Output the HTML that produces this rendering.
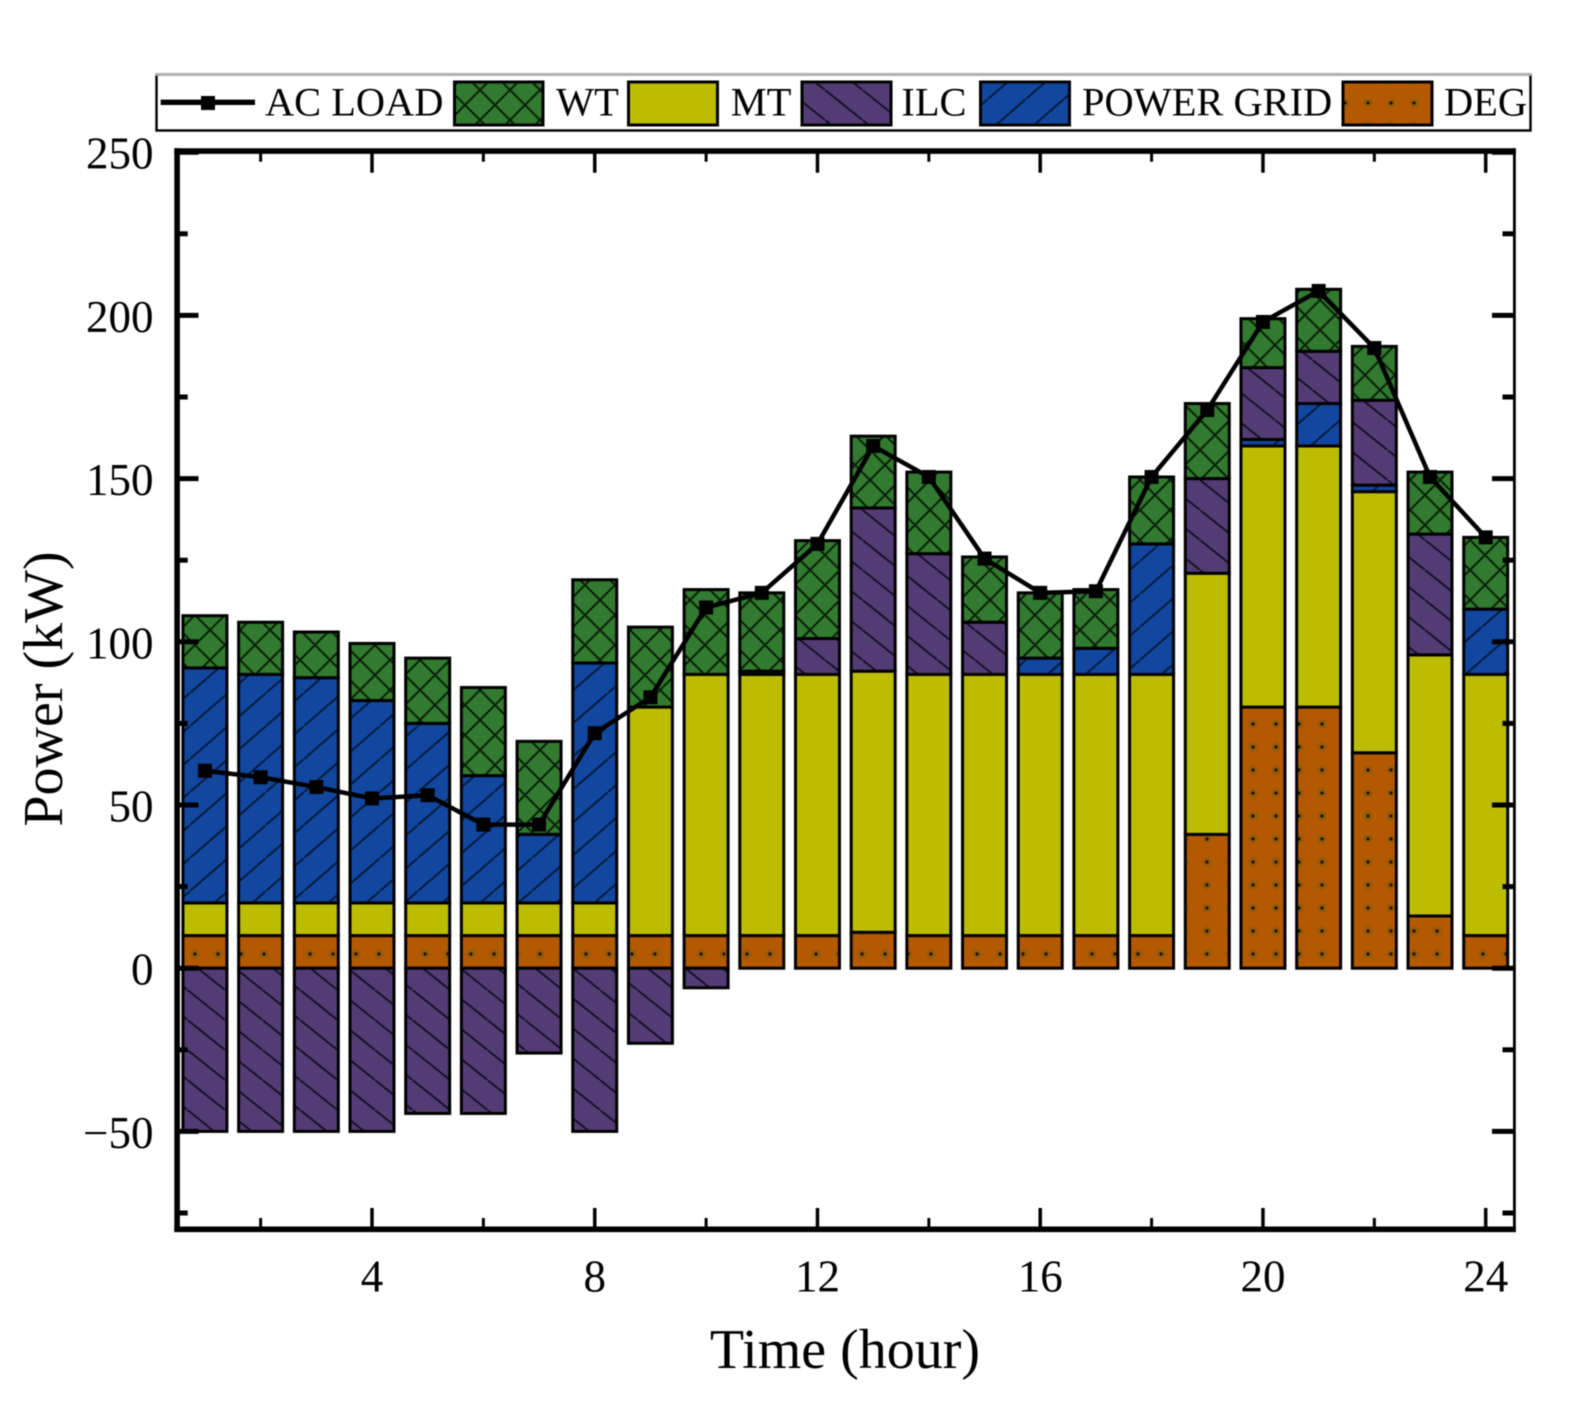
<!DOCTYPE html>
<html>
<head>
<meta charset="utf-8">
<title>Power balance chart</title>
<style>
html,body{margin:0;padding:0;background:#fff;}
#chart{display:block;width:1582px;height:1426px;filter:blur(0.5px);}
text{font-family:"Liberation Serif",serif;fill:#000;}
.tick{font-size:45px;}
.leg{font-size:40.4px;}
.title{font-size:56px;}
</style>
</head>
<body>
<svg id="chart" xmlns="http://www.w3.org/2000/svg" width="1582" height="1426" viewBox="0 0 1582 1426">
  <defs>
    <pattern id="p-wt" patternUnits="userSpaceOnUse" width="30" height="30">
      <rect width="30" height="30" fill="#317a2f"/>
      <path d="M0 0L30 30M30 0L0 30" stroke="#0a1f0a" stroke-width="2" fill="none"/>
    </pattern>
    <pattern id="p-ilc" patternUnits="userSpaceOnUse" width="37.5" height="30">
      <rect width="37.5" height="30" fill="#533c74"/>
      <path d="M-3.75 -3L41.25 33" stroke="#17102a" stroke-width="2" fill="none"/>
    </pattern>
    <pattern id="p-grid" patternUnits="userSpaceOnUse" width="38" height="33">
      <rect width="38" height="33" fill="#12479f"/>
      <path d="M-3.8 36.3L41.8 -3.3" stroke="#071c40" stroke-width="2" fill="none"/>
    </pattern>
    <pattern id="p-deg" patternUnits="userSpaceOnUse" width="23" height="23">
      <rect width="23" height="23" fill="#b35900"/>
      <circle cx="11" cy="11" r="4.5" fill="#94590a"/>
      <circle cx="11" cy="11" r="1.6" fill="#201000"/>
    </pattern>
    <clipPath id="plot-clip"><rect x="177" y="151" width="1337" height="1078"/></clipPath>
  </defs>

  <g id="bars" clip-path="url(#plot-clip)"></g>
  <g id="load-line"></g>
  <g id="axes"></g>

  <g stroke="#000" fill="none">
    <line x1="177.1" y1="148.3" x2="177.1" y2="1232" stroke-width="5.6"/>
    <line x1="1514.4" y1="148.3" x2="1514.4" y2="1232" stroke-width="2.8"/>
    <line x1="174.3" y1="151.1" x2="1515.8" y2="151.1" stroke-width="5.6"/>
    <line x1="174.3" y1="1229.3" x2="1515.8" y2="1229.3" stroke-width="5.6"/>
  </g>

  <text class="title" x="845" y="1368" text-anchor="middle">Time (hour)</text>
  <text class="title" transform="translate(62,689) rotate(-90)" text-anchor="middle">Power (kW)</text>

  <g>
    <rect x="156.5" y="74.5" width="1374" height="56" fill="#fff" stroke="#000" stroke-width="2.4"/>
    <line x1="155.5" y1="74.5" x2="1531.5" y2="74.5" stroke="#b4b4b4" stroke-width="2.6"/>
    <g>
      <line x1="160.7" y1="102.3" x2="255" y2="102.3" stroke="#000" stroke-width="5.4"/>
      <rect x="201" y="96" width="14" height="14" fill="#000"/>
      <text class="leg" x="265" y="115.5">AC LOAD</text>
    </g>
    <g>
      <rect x="454.5" y="82" width="88.5" height="43" fill="url(#p-wt)" stroke="#000" stroke-width="3"/>
      <text class="leg" x="556" y="115.5">WT</text>
    </g>
    <g>
      <rect x="628.5" y="82" width="89" height="43" fill="#bcbc00" stroke="#000" stroke-width="3"/>
      <text class="leg" x="730.8" y="115.5">MT</text>
    </g>
    <g>
      <rect x="802" y="82" width="89" height="43" fill="url(#p-ilc)" stroke="#000" stroke-width="3"/>
      <text class="leg" x="901.4" y="115.5">ILC</text>
    </g>
    <g>
      <rect x="980.5" y="82" width="89" height="43" fill="url(#p-grid)" stroke="#000" stroke-width="3"/>
      <text class="leg" x="1082" y="115.5">POWER GRID</text>
    </g>
    <g>
      <rect x="1343" y="82" width="89" height="43" fill="url(#p-deg)" stroke="#000" stroke-width="3"/>
      <text class="leg" x="1444" y="115.5">DEG</text>
    </g>
  </g>
</svg>

<script>
const hours = [1,2,3,4,5,6,7,8,9,10,11,12,13,14,15,16,17,18,19,20,21,22,23,24];
const degValues  = [10,10,10,10,10,10,10,10,10,10,10,10,11,10,10,10,10,10,41,80,80,66,16,10];
const mtValues   = [10,10,10,10,10,10,10,10,70,80,80,80,80,80,80,80,80,80,80,80,80,80,80,80];
const gridValues = [72,70,69,62,55,39,21,73.5,0,0,0,0,0,0,0,5,8,40,0,2,13,2,0,20];
const ilcValues  = [-50,-50,-50,-50,-44.5,-44.5,-26,-50,-23,-6,1,11,50,37,16,0,0,0,29,22,16,26,37,0];
const wtValues   = [16,16,14,17.5,20,27,28.5,25.5,24.5,26,24,30,22,25,20,20,18,20.5,23,15,19,16.5,19,22];
const loadValues = [60.5,58.5,55.5,52,53,44,44,72,83,110.5,115,130,160,150.5,125.5,115,115.5,150.5,171,198,207.5,190,150.5,132];
const yMajorTicks = [-50,0,50,100,150,200,250];
const yMinorTicks = [-75,-25,25,75,125,175,225];
const xMajorTicks = [4,8,12,16,20,24];
const xMinorTicks = [2,6,10,14,18,22];
const barWidthHours = 0.79;

const NS = 'http://www.w3.org/2000/svg';
function xScale(h){ return 372 + (h - 4) * 55.685; }
function yScale(v){ return 968.2 - v * 3.264; }
function make(tag, attrs, parent){
  const el = document.createElementNS(NS, tag);
  for (const k in attrs) el.setAttribute(k, attrs[k]);
  parent.appendChild(el);
  return el;
}

const barsGroup = document.getElementById('bars');
function drawSegment(hour, v0, v1, fill, name){
  if (v0 === v1) return;
  const x0 = xScale(hour - barWidthHours / 2);
  const x1 = xScale(hour + barWidthHours / 2);
  const yA = yScale(Math.max(v0, v1));
  const yB = yScale(Math.min(v0, v1));
  const r = make('rect', {x:x0, y:yA, width:x1-x0, height:yB-yA, fill:fill, stroke:'#000', 'stroke-width':3}, barsGroup);
  
  
}
hours.forEach(function(h, i){
  let top = 0;
  drawSegment(h, top, top + degValues[i], 'url(#p-deg)', 'deg'); top += degValues[i];
  drawSegment(h, top, top + mtValues[i], '#bcbc00', 'mt'); top += mtValues[i];
  drawSegment(h, top, top + gridValues[i], 'url(#p-grid)', 'power-grid'); top += gridValues[i];
  if (ilcValues[i] < 0) {
    drawSegment(h, 0, ilcValues[i], 'url(#p-ilc)', 'ilc');
  } else {
    drawSegment(h, top, top + ilcValues[i], 'url(#p-ilc)', 'ilc'); top += ilcValues[i];
  }
  drawSegment(h, top, top + wtValues[i], 'url(#p-wt)', 'wt');
});

const lineGroup = document.getElementById('load-line');
const pts = hours.map(function(h, i){ return xScale(h) + ',' + yScale(loadValues[i]); }).join(' ');
const loadLine = make('polyline', {points:pts, fill:'none', stroke:'#000', 'stroke-width':4.5, 'stroke-linejoin':'round'}, lineGroup);


hours.forEach(function(h, i){
  const m = make('rect', {x:xScale(h)-7, y:yScale(loadValues[i])-7, width:14, height:14, fill:'#000'}, lineGroup);
  
  
});

const axesGroup = document.getElementById('axes');
function tick(x1, y1, x2, y2, w, name){
  const t = make('line', {x1:x1, y1:y1, x2:x2, y2:y2, stroke:'#000', 'stroke-width':w}, axesGroup);
  
  
}
yMajorTicks.forEach(function(v){
  const y = yScale(v);
  tick(177, y, 198.5, y, 5, 'y-major-tick-left');
  tick(1514, y, 1492, y, 5, 'y-major-tick-right');
  const label = make('text', {x:153.5, y:y + 16.5, 'text-anchor':'end', 'class':'tick'}, axesGroup);
  label.textContent = v < 0 ? '\u2212' + Math.abs(v) : String(v);
  
  
});
yMinorTicks.forEach(function(v){
  const y = yScale(v);
  tick(177, y, 187.7, y, 5, 'y-minor-tick-left');
  tick(1514, y, 1502.5, y, 5, 'y-minor-tick-right');
});
xMajorTicks.forEach(function(h){
  const x = xScale(h);
  tick(x, 1229, x, 1208, 3.5, 'x-major-tick-bottom');
  tick(x, 151, x, 172.7, 3.5, 'x-major-tick-top');
  const label = make('text', {x:x, y:1291.5, 'text-anchor':'middle', 'class':'tick'}, axesGroup);
  label.textContent = String(h);
  
  
});
xMinorTicks.forEach(function(h){
  const x = xScale(h);
  tick(x, 1229, x, 1218, 3, 'x-minor-tick-bottom');
  tick(x, 151, x, 161.7, 3, 'x-minor-tick-top');
});
</script>
</body>
</html>
